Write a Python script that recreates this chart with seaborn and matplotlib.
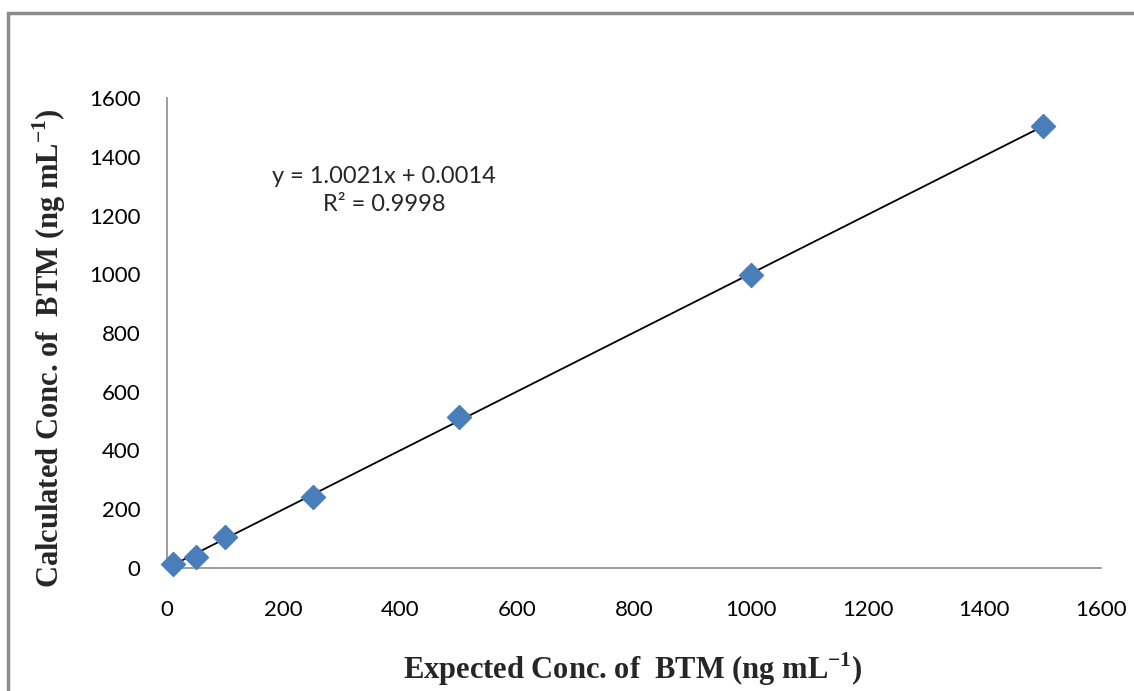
import matplotlib
matplotlib.use("Agg")
import matplotlib.pyplot as plt
import matplotlib.patches as mpatches
import numpy as np
import pandas as pd
import seaborn as sns

# ========== Data ==========
expected = [10, 50, 100, 250, 500, 1000, 1500]
calculated = [12, 38, 106, 242, 514, 998, 1506]
slope = 1.0021
intercept = 0.0014
eq_text = "y = 1.0021x + 0.0014\nR² = 0.9998"
ticks = [0, 200, 400, 600, 800, 1000, 1200, 1400, 1600]

df = pd.DataFrame({"expected": expected, "calculated": calculated})

# ========== Style ==========
sns.set_theme(style="white")
plt.rcParams["font.family"] = ["Lato", "DejaVu Sans"]
plt.rcParams["mathtext.fontset"] = "custom"
plt.rcParams["mathtext.rm"] = "Liberation Serif"
plt.rcParams["mathtext.bf"] = "Liberation Serif:bold"

W, H = 1134, 691
fig = plt.figure(figsize=(W / 100, H / 100), dpi=100)
ax = fig.add_axes([167 / W, 1 - 568 / H, (1101 - 167) / W, (568 - 98) / H])

# trendline
xl = np.array([min(expected), max(expected)])
ax.plot(xl, slope * xl + intercept, color="black", linewidth=1.3, zorder=2)

sns.scatterplot(data=df, x="expected", y="calculated", marker="D", s=150,
                color="#4a7ebb", edgecolor="#4a7ebb", ax=ax, zorder=3,
                clip_on=False)

ax.set_xlim(0, 1600)
ax.set_ylim(0, 1600)
ax.set_xticks(ticks)
ax.set_yticks(ticks)
ax.tick_params(axis="x", direction="out", length=8, width=1.2, color="#8c8c8c",
               labelsize=16, pad=15, labelcolor="black")
ax.tick_params(axis="y", length=0, labelsize=16, pad=19, labelcolor="black")
for side in ["top", "right"]:
    ax.spines[side].set_visible(False)
for side in ["left", "bottom"]:
    ax.spines[side].set_color("#8c8c8c")
    ax.spines[side].set_linewidth(1.2)

label_font = dict(family=["Liberation Serif", "DejaVu Serif"], weight="bold", size=22)
ax.set_xlabel("Expected Conc. of  BTM (ng mL$^{\\mathbf{-1}}$)", **label_font)
ax.set_ylabel("Calculated Conc. of  BTM (ng mL$^{\\mathbf{-1}}$)", **label_font)
ax.xaxis.set_label_coords(0.499, -0.176)
ax.yaxis.set_label_coords(-0.106, 0.468)

ax.text(372, 1285, eq_text, ha="center", va="center", fontsize=17,
        linespacing=1.45)

# outer chart border
fig.patches.append(mpatches.Rectangle((8 / W, -0.05), 1.1, 1 - 13 / H + 0.05,
                                      transform=fig.transFigure, fill=False,
                                      edgecolor="#8c8c8c", linewidth=2.5))

fig.savefig("out.png", dpi=100)
